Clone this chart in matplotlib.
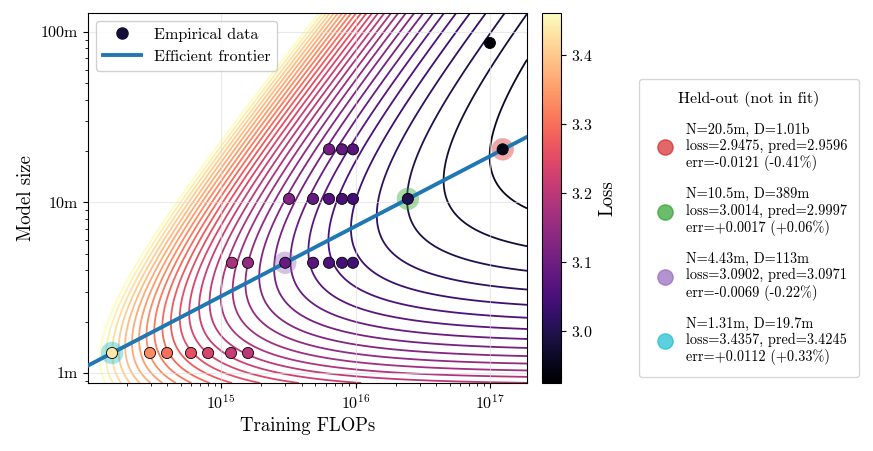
import numpy as np
import matplotlib
matplotlib.use("Agg")
import matplotlib.pyplot as plt
from matplotlib.colors import Normalize
from matplotlib.cm import ScalarMappable
from matplotlib.lines import Line2D
from matplotlib.ticker import FuncFormatter

plt.rcParams["font.family"] = ["cmr10", "DejaVu Serif"]
plt.rcParams["mathtext.fontset"] = "cm"
plt.rcParams["axes.unicode_minus"] = False
plt.rcParams["axes.formatter.use_mathtext"] = True

# fitted loss surface: L(N, D) = E + A / N^alpha + B / D^beta
E, A, ALPHA, B, BETA = 2.8998, 17600.0, 0.803, 3760.0, 0.560

# empirical runs used in the fit (params, tokens, final loss)
emp_params = [1.31e6] * 6 + [4.43e6] * 6 + [10.5e6] * 5 + [20.5e6] * 3 + [86.2e6]
emp_tokens = [37.7e6, 50.5e6, 76.1e6, 102e6, 151e6, 202e6,
              45.4e6, 59.7e6, 182e6, 239e6, 299e6, 360e6,
              50.9e6, 76.7e6, 101e6, 126e6, 152e6,
              51.7e6, 64.5e6, 77.9e6,
              193e6]
emp_loss = [3.330, 3.298, 3.260, 3.239, 3.214, 3.199,
            3.175, 3.147, 3.070, 3.057, 3.048, 3.041,
            3.122, 3.085, 3.064, 3.050, 3.039,
            3.104, 3.083, 3.067,
            2.930]

# held-out runs
ho_params = [20.5e6, 10.5e6, 4.43e6, 1.31e6]
ho_tokens = [1.01e9, 389e6, 113e6, 19.7e6]
ho_loss = [2.9475, 3.0014, 3.0902, 3.4357]
ho_pred = [2.9596, 2.9997, 3.0971, 3.4245]
ho_colors = ["tab:red", "tab:green", "tab:purple", "tab:cyan"]

VMIN, VMAX = 2.925, 3.461
XLIM = (1.026e14, 1.884e17)
YLIM = (8.735e5, 1.292e8)


def loss_fn(n, d):
    return E + A / n ** ALPHA + B / d ** BETA


def fmt_count(x):
    if x >= 1e9:
        return f"{x / 1e9:.3g}b"
    return f"{x / 1e6:.3g}m"


fig = plt.figure(figsize=(8.73, 4.51), dpi=100)
ax = fig.add_axes([88 / 873, 1 - 383 / 451, 439 / 873, 370 / 451])
cax = fig.add_axes([542 / 873, 1 - 383 / 451, 19 / 873, 370 / 451])

norm = Normalize(VMIN, VMAX)
cmap = plt.get_cmap("magma")

# contour of the fitted surface over compute / model size
cc = np.logspace(np.log10(XLIM[0]), np.log10(XLIM[1]), 500)
nn = np.logspace(np.log10(YLIM[0]), np.log10(YLIM[1]), 500)
CC, NN = np.meshgrid(cc, nn)
LL = loss_fn(NN, CC / (6 * NN))
ax.contour(CC, NN, LL, levels=np.linspace(VMIN, VMAX, 30), cmap=cmap,
           norm=norm, linewidths=1.3, zorder=1)

# efficient frontier
g = (ALPHA * A / (BETA * B)) ** (1 / (ALPHA + BETA))
n_opt = g * (cc / 6) ** (BETA / (ALPHA + BETA))
ax.plot(cc, n_opt, color="tab:blue", lw=2.8, zorder=3)

# held-out highlight circles
ho_flops = [6 * n * d for n, d in zip(ho_params, ho_tokens)]
ax.scatter(ho_flops, ho_params, s=260, c=ho_colors, alpha=0.4, lw=0, zorder=2)

emp_flops = [6 * n * d for n, d in zip(emp_params, emp_tokens)]
ax.scatter(emp_flops, emp_params, c=emp_loss, cmap=cmap, norm=norm, s=64,
           edgecolors="black", linewidths=0.6, zorder=4)
ax.scatter(ho_flops, ho_params, c=ho_loss, cmap=cmap, norm=norm, s=64,
           edgecolors="black", linewidths=0.6, zorder=4)

ax.set_xscale("log")
ax.set_yscale("log")
ax.set_xlim(*XLIM)
ax.set_ylim(*YLIM)
ax.set_yticks([1e6, 1e7, 1e8])
ax.yaxis.set_major_formatter(FuncFormatter(lambda v, p: fmt_count(v)))
ax.grid(True, which="major", color="#dddddd", lw=0.8, alpha=0.6)
ax.tick_params(labelsize=11.5)
ax.set_xlabel("Training FLOPs", fontsize=13.5)
ax.set_ylabel("Model size", fontsize=13.5)

handles = [Line2D([], [], ls="", marker="o", ms=8, color="#140e36"),
           Line2D([], [], color="tab:blue", lw=2.8)]
ax.legend(handles, ["Empirical data", "Efficient frontier"], loc="upper left",
          fontsize=11.6, handlelength=2.4, framealpha=0.9, edgecolor="#cccccc")

cb = fig.colorbar(ScalarMappable(norm=norm, cmap=cmap), cax=cax)
cb.set_ticks([3.0, 3.1, 3.2, 3.3, 3.4])
cb.ax.tick_params(labelsize=11.5)
cb.set_label("Loss", fontsize=13.5)

ho_handles = []
ho_labels = []
for n, d, l, p, col in zip(ho_params, ho_tokens, ho_loss, ho_pred, ho_colors):
    err = l - p
    pct = err / p * 100
    ho_handles.append(Line2D([], [], ls="", marker="o", ms=11, color=col, alpha=0.7))
    ho_labels.append(f"N={fmt_count(n)}, D={fmt_count(d)}\n"
                     f"loss={l:.4f}, pred={p:.4f}\n"
                     f"err={err:+.4f} ({pct:+.2f}%)")
fig.legend(ho_handles, ho_labels, title="Held-out (not in fit)",
           loc="center left", bbox_to_anchor=(632 / 873, 1 - 228 / 451),
           fontsize=10.3, title_fontsize=11.5, labelspacing=1.1,
           handletextpad=0.45, borderpad=0.8, edgecolor="#cccccc")

fig.savefig("out.png", dpi=100)
